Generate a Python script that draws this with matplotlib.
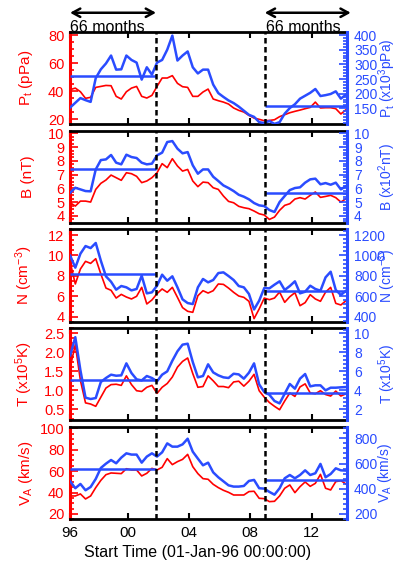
import numpy as np
import matplotlib
matplotlib.use('Agg')
import matplotlib.pyplot as plt
from matplotlib.ticker import AutoMinorLocator, FormatStrFormatter

plt.rcParams['font.family'] = ['Liberation Sans', 'DejaVu Sans']
plt.rcParams['mathtext.default'] = 'regular'

# time grid (years), one point every 4 months
years = 1996.25 + np.arange(55) / 3.0

# total pressure
pt_red = [41.0, 42.1, 39.5, 34.8, 35.5, 42.6, 43.3, 44.0, 43.8, 36.2,
          34.3, 39.5, 42.1, 43.3, 36.2, 35.0, 36.9, 43.3, 49.3, 49.3,
          51.0, 45.5, 43.1, 42.6, 36.2, 36.2, 39.3, 41.4, 34.3, 33.1,
          32.1, 30.7, 27.9, 26.2, 25.0, 22.6, 20.7, 19.8, 18.8, 19.0,
          19.5, 21.7, 23.1, 24.5, 25.5, 26.4, 27.4, 28.3, 32.1, 27.9,
          28.1, 28.1, 27.4, 23.6, 26.7]
pt_blue = [153, 169, 185, 178, 172, 253, 283, 303, 330, 282,
           283, 330, 315, 306, 248, 290, 265, 306, 315, 350,
           398, 313, 330, 344, 290, 269, 282, 282, 231, 202,
           189, 177, 168, 156, 142, 128, 121, 103, 100, 107,
           97, 103, 132, 151, 164, 183, 193, 203, 216, 192,
           195, 199, 208, 183, 197]
pt_mean = [259, 157]

# magnetic field
b_red = [4.96, 4.72, 5.08, 5.08, 5.01, 5.93, 6.37, 6.61, 6.97, 6.78,
         6.59, 7.14, 7.07, 6.88, 6.42, 6.54, 6.78, 7.14, 7.80, 7.51,
         8.16, 7.63, 7.26, 7.38, 6.54, 6.13, 6.46, 6.42, 6.05, 5.93,
         5.45, 5.06, 4.96, 4.70, 4.60, 4.53, 4.36, 4.16, 4.07, 3.75,
         3.92, 4.41, 4.77, 4.89, 5.23, 5.33, 5.23, 5.50, 5.74, 5.35,
         5.42, 5.50, 5.33, 5.01, 5.25]
b_blue = [5.69, 6.05, 5.93, 5.81, 5.79, 7.38, 8.06, 8.11, 8.43, 7.87,
          7.75, 8.45, 8.28, 8.21, 7.87, 7.75, 7.80, 8.40, 8.60, 9.37,
          9.44, 8.89, 8.55, 8.64, 7.68, 7.07, 7.38, 7.38, 6.85, 6.54,
          6.22, 6.03, 5.81, 5.54, 5.40, 5.21, 4.94, 4.77, 4.72, 4.43,
          4.29, 5.01, 5.45, 5.88, 6.03, 6.08, 6.42, 6.66, 6.71, 6.30,
          6.39, 6.27, 6.42, 5.93, 6.17]
b_mean = [7.38, 5.69]

# density
n_red = [9.32, 7.2, 8.67, 9.42, 9.22, 9.68, 8.18, 6.80, 6.58, 5.82,
         6.18, 5.92, 5.73, 5.99, 6.87, 5.24, 5.63, 6.25, 6.71, 6.38,
         6.87, 5.89, 4.88, 4.52, 4.42, 6.05, 6.54, 6.31, 6.54, 7.20,
         7.16, 6.80, 6.38, 6.02, 5.89, 5.50, 3.80, 4.75, 5.82, 5.66,
         5.82, 6.41, 5.40, 5.95, 6.35, 5.07, 5.37, 6.15, 5.73, 5.50,
         6.40, 6.87, 5.30, 5.14, 5.56]
n_blue = [997, 880, 1017, 1092, 1072, 1122, 948, 795, 742, 664,
          700, 687, 657, 671, 801, 628, 638, 703, 811, 752,
          795, 687, 569, 533, 523, 687, 769, 736, 759, 827,
          834, 798, 759, 700, 687, 622, 470, 556, 680, 677,
          713, 746, 661, 700, 746, 628, 644, 703, 671, 654,
          785, 840, 661, 612, 654]
n_mean = [818, 654]

# temperature
t_red = [1.61, 2.2, 1.26, 0.67, 0.64, 0.58, 0.82, 1.06, 1.15, 1.16,
         1.13, 1.38, 1.15, 0.99, 0.97, 1.08, 1.13, 0.92, 1.08, 1.18,
         1.35, 1.61, 1.76, 1.85, 1.44, 1.08, 1.10, 1.38, 1.25, 1.10,
         1.10, 1.07, 1.22, 1.24, 1.11, 1.24, 1.42, 0.99, 0.82, 0.68,
         0.58, 0.49, 0.72, 0.93, 0.84, 1.09, 1.17, 0.93, 0.91, 0.99,
         0.89, 0.85, 0.98, 0.85, 0.91]
t_blue = [7.68, 9.6, 6.11, 3.23, 3.09, 3.19, 4.88, 5.30, 5.65, 5.54,
          5.58, 6.84, 5.82, 5.16, 5.05, 5.51, 5.30, 4.95, 5.65, 6.00,
          7.12, 8.11, 8.81, 8.91, 6.98, 5.37, 5.51, 6.74, 5.89, 5.58,
          5.37, 5.30, 5.75, 5.68, 5.23, 5.86, 6.84, 4.63, 3.82, 3.54,
          2.88, 2.63, 3.65, 4.67, 4.18, 5.23, 5.72, 4.42, 4.53, 4.53,
          4.00, 4.28, 4.28, 4.32, 4.35]
t_mean = [5.05, 3.72]

# Alfven speed
va_red = [36.8, 36.8, 38.7, 34.0, 36.8, 44.6, 51.4, 56.7, 58.3, 58.0,
          57.7, 62.3, 61.1, 61.1, 55.5, 58.0, 62.6, 61.1, 63.6, 71.7,
          66.1, 68.9, 71.0, 75.7, 64.2, 57.7, 53.0, 52.4, 47.7, 44.6,
          42.1, 40.2, 37.7, 37.7, 37.7, 40.9, 41.2, 34.6, 34.3, 31.5,
          31.8, 36.8, 44.0, 47.1, 39.9, 45.5, 49.9, 45.8, 48.6, 57.0,
          44.0, 42.4, 50.2, 51.1, 48.0]
va_blue = [459, 404, 438, 388, 414, 478, 565, 599, 628, 602,
           647, 681, 671, 671, 607, 655, 681, 655, 689, 760,
           734, 734, 752, 797, 694, 639, 586, 607, 530, 491,
           459, 427, 417, 417, 422, 462, 470, 404, 401, 375,
           353, 404, 483, 509, 483, 509, 546, 509, 523, 597,
           491, 517, 562, 546, 544]
va_mean = [554, 470]

xtick_labels = ['96', '00', '04', '08', '12']
cuts = [2001.85, 2008.95]
x0, x1 = 1996.24, 2014.32

RED = '#ff0000'
BLUE = '#2a4cff'

panels = [
    (pt_red, pt_blue, pt_mean, (16.4, 81.9), (96.4, 409), [20, 40, 60, 80],
     [150, 200, 250, 300, 350, 400], '%d', '%d',
     'P$_t$ (pPa)', 'P$_t$ (x10$^3$pPa)'),
    (b_red, b_blue, b_mean, (3.51, 10.17), (3.51, 10.17), [4, 5, 6, 7, 8, 9, 10],
     [4, 5, 6, 7, 8, 9, 10], '%d', '%d',
     'B (nT)', 'B (x10$^2$nT)'),
    (n_red, n_blue, n_mean, (3.5, 12.56), (350, 1256), [4, 6, 8, 10, 12],
     [400, 600, 800, 1000, 1200], '%d', '%d',
     'N (cm$^{-3}$)', 'N (cm$^{-3}$)'),
    (t_red, t_blue, t_mean, (0.22, 2.63), (0.88, 10.53), [0.5, 1.0, 1.5, 2.0, 2.5],
     [2, 4, 6, 8, 10], '%.1f', '%d',
     'T (x10$^5$K)', 'T (x10$^5$K)'),
    (va_red, va_blue, va_mean, (15.0, 101.6), (157.8, 892.5), [20, 40, 60, 80, 100],
     [200, 400, 600, 800], '%d', '%d',
     'V$_A$ (km/s)', 'V$_A$ (km/s)'),
]

bottoms = [0.780, 0.6051, 0.4296, 0.2553, 0.0793]
heights = [0.1626, 0.1626, 0.1638, 0.1626, 0.1642]

fig = plt.figure(figsize=(3.98, 5.64), dpi=100)
axes = []
for i, (red, blue, means, ylr, ylb, tl, tr, fl, fr, labl, labr) in enumerate(panels):
    ax = fig.add_axes([0.176, bottoms[i], 0.696, heights[i]])
    ax2 = ax.twinx()
    ax.plot(years, red, color=RED, lw=1.2)
    ax2.plot(years, blue, color=BLUE, lw=1.8)
    ax2.hlines(means[0], x0, cuts[0], color=BLUE, lw=1.8)
    ax2.hlines(means[1], cuts[1], x1, color=BLUE, lw=1.8)
    for c in cuts:
        ax2.axvline(c, color='k', ls=(0, (2.2, 1.4)), lw=1.8)

    ax.set_xlim(x0, x1)
    ax.set_ylim(*ylr)
    ax2.set_ylim(*ylb)
    ax.set_yticks(tl)
    ax2.set_yticks(tr)
    ax.yaxis.set_major_formatter(FormatStrFormatter(fl))
    ax2.yaxis.set_major_formatter(FormatStrFormatter(fr))
    ax.yaxis.set_minor_locator(AutoMinorLocator(4))
    ax2.yaxis.set_minor_locator(AutoMinorLocator(5))

    ax.set_xticks([x0, 2000, 2004, 2008, 2012])
    ax.set_xticklabels(xtick_labels)
    ax.tick_params(axis='x', direction='in', top=True, length=4, width=1.5,
                   labelbottom=(i == 4), labelsize=11, pad=5)
    ax.tick_params(axis='y', which='both', colors=RED, direction='in', width=1.2,
                   labelsize=10.5, pad=4)
    ax.tick_params(axis='y', which='major', length=6)
    ax.tick_params(axis='y', which='minor', length=3)
    ax2.tick_params(axis='y', which='both', colors=BLUE, direction='in', width=1.2,
                    labelsize=10, pad=5)
    ax2.tick_params(axis='y', which='major', length=6)
    ax2.tick_params(axis='y', which='minor', length=3)

    ax.spines['left'].set_color(RED)
    ax.spines['left'].set_linewidth(2.2)
    ax.spines['right'].set_visible(False)
    for s in ['top', 'bottom']:
        ax.spines[s].set_linewidth(2.0)
        ax2.spines[s].set_visible(False)
    ax2.spines['left'].set_visible(False)
    ax2.spines['right'].set_color(BLUE)
    ax2.spines['right'].set_linewidth(2.2)

    ax.set_ylabel(labl, color=RED, fontsize=11)
    ax.yaxis.set_label_coords(-0.125, 0.5)
    ax2.set_ylabel(labr, color=BLUE, fontsize=10)
    ax2.yaxis.set_label_coords(1.105, 0.5)
    axes.append(ax)

top = axes[0]
arrow = dict(arrowstyle='<->, head_length=0.55, head_width=0.3', lw=1.8,
             color='k', shrinkA=0, shrinkB=0)
top.annotate('', xy=(x0, 1.214), xytext=(cuts[0], 1.214),
             xycoords=('data', 'axes fraction'), arrowprops=arrow,
             annotation_clip=False)
top.annotate('', xy=(cuts[1], 1.214), xytext=(2014.56, 1.214),
             xycoords=('data', 'axes fraction'), arrowprops=arrow,
             annotation_clip=False)
top.text(x0, 1.0, '66 months', transform=top.get_xaxis_transform(),
         ha='left', va='baseline', fontsize=11.5)
top.text(cuts[1] + 0.1, 1.0, '66 months', transform=top.get_xaxis_transform(),
         ha='left', va='baseline', fontsize=11.5)

fig.text(198 / 398, 1 - 552 / 564, 'Start Time (01-Jan-96 00:00:00)',
         ha='center', va='center', fontsize=11.5)

fig.savefig('out.png', dpi=100)
